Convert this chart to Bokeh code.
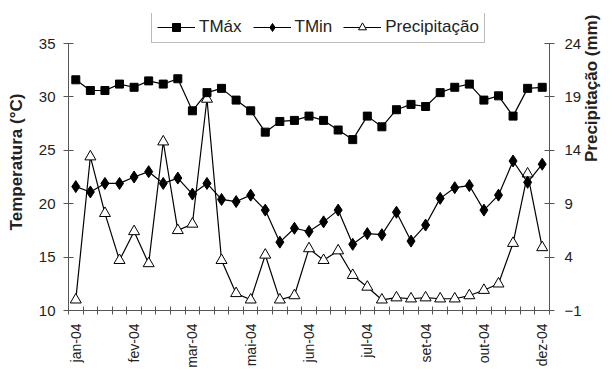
from bokeh.plotting import figure
from bokeh.models import Range1d, LinearAxis, FixedTicker, Legend, LegendItem
from bokeh.embed import file_html
from bokeh.resources import INLINE

# ---- data ----
month_labels = ["jan-04", "fev-04", "mar-04", "mai-04", "jun-04",
                "jul-04", "set-04", "out-04", "dez-04"]
label_positions = [0, 4, 8, 12, 16, 20, 24, 28, 32]

tmax = [31.6, 30.6, 30.6, 31.2, 30.9, 31.5, 31.2, 31.7, 28.7, 30.4, 30.8,
        29.7, 28.7, 26.7, 27.7, 27.8, 28.2, 27.8, 26.9, 26.0, 28.2, 27.2,
        28.8, 29.3, 29.1, 30.4, 30.9, 31.2, 29.7, 30.1, 28.2, 30.8, 30.9]
tmin = [21.6, 21.1, 21.9, 21.9, 22.5, 23.0, 21.9, 22.4, 20.9, 21.9, 20.4,
        20.2, 20.8, 19.4, 16.4, 17.7, 17.4, 18.3, 19.4, 16.2, 17.2, 17.1,
        19.2, 16.5, 18.0, 20.5, 21.5, 21.7, 19.4, 20.8, 24.0, 22.0, 23.7]
precip = [0.0, 13.4, 8.1, 3.7, 6.4, 3.4, 14.8, 6.5, 7.1, 18.8, 3.7,
          0.6, 0.0, 4.2, 0.0, 0.4, 4.8, 3.7, 4.6, 2.3, 1.2, 0.0,
          0.2, 0.1, 0.2, 0.1, 0.1, 0.4, 0.9, 1.5, 5.3, 11.8, 4.9]
x = list(range(len(tmax)))

left_ticks = [10, 15, 20, 25, 30, 35]
right_ticks = [-1, 4, 9, 14, 19, 24]

FONT = "Liberation Sans"
TXT = "#222222"
AX = "#555555"

# frame: 267 px for the axes span, plus 30 px headroom on top for the legend
AXIS_PX = 267
HEAD_PX = 30
t_lo, t_hi = left_ticks[0], left_ticks[-1]
p_lo, p_hi = right_ticks[0], right_ticks[-1]
head_t = (t_hi - t_lo) * HEAD_PX / AXIS_PX
head_p = (p_hi - p_lo) * HEAD_PX / AXIS_PX

p = figure(width=613, height=371,
           x_range=Range1d(-0.5, len(x) - 0.5),
           y_range=Range1d(t_lo, t_hi + head_t),
           output_backend="svg", toolbar_location=None,
           min_border_left=68, min_border_right=58,
           min_border_top=13, min_border_bottom=61)
p.extra_y_ranges = {"precip": Range1d(p_lo, p_hi + head_p)}
p.outline_line_color = None
p.xgrid.visible = False
p.ygrid.visible = False
p.background_fill_color = "white"
p.border_fill_color = "white"

# series
lp = p.line(x, precip, y_range_name="precip", line_color="black", line_width=1.2)
sp = p.scatter(x, precip, y_range_name="precip", marker="triangle", size=11,
               fill_color="white", line_color="black", line_width=1)
ln = p.line(x, tmin, line_color="black", line_width=1.2)
sn = p.scatter(x, tmin, marker="diamond", size=12, fill_color="black", line_color="black")
lx = p.line(x, tmax, line_color="black", line_width=1.2)
sx = p.scatter(x, tmax, marker="square", size=8, fill_color="black", line_color="black")

# x axis
xa = p.xaxis[0]
xa.ticker = FixedTicker(ticks=label_positions,
                        minor_ticks=[i - 0.5 for i in range(len(x) + 1)])
xa.major_label_overrides = {pos: lab for pos, lab in zip(label_positions, month_labels)}
xa.major_label_orientation = 3.14159265 / 2
xa.major_tick_in = 0
xa.major_tick_out = 0
xa.minor_tick_in = 4
xa.minor_tick_out = 4
xa.major_label_standoff = 9

# left axis
ya = p.yaxis[0]
ya.ticker = FixedTicker(ticks=left_ticks)
ya.bounds = (t_lo, t_hi)
ya.axis_label = "Temperatura (°C)"
ya.minor_tick_line_color = None
ya.major_tick_in = 5
ya.major_tick_out = 5
ya.major_label_standoff = 8
ya.axis_label_standoff = 10

# right axis
ra = LinearAxis(y_range_name="precip", ticker=FixedTicker(ticks=right_ticks),
                axis_label="Precipitação (mm)", bounds=(p_lo, p_hi))
ra.minor_tick_line_color = None
ra.major_tick_in = 5
ra.major_tick_out = 5
ra.major_label_standoff = 10
ra.axis_label_standoff = 7
if "axis_label_orientation" in ra.properties():
    ra.axis_label_orientation = 3.14159265 / 2
p.add_layout(ra, "right")

for ax in (xa, ya, ra):
    ax.axis_line_color = AX
    ax.major_tick_line_color = AX
    ax.axis_line_width = 1
    ax.major_label_text_font = FONT
    ax.major_label_text_font_size = "15px"
    ax.major_label_text_color = TXT
    ax.axis_label_text_font = FONT
    ax.axis_label_text_font_size = "17px"
    ax.axis_label_text_font_style = "bold"
    ax.axis_label_text_color = TXT
xa.minor_tick_line_color = AX
xa.major_label_text_font_size = "14px"

legend = Legend(items=[LegendItem(label="TMáx", renderers=[lx, sx]),
                       LegendItem(label="TMin", renderers=[ln, sn]),
                       LegendItem(label="Precipitação", renderers=[lp, sp])],
                orientation="horizontal", location=(83, AXIS_PX))
legend.label_text_font = FONT
legend.label_text_font_size = "17px"
legend.label_text_color = TXT
legend.glyph_width = 38
legend.glyph_height = 20
legend.label_height = 20
legend.label_standoff = 4
legend.spacing = 11
legend.padding = 5
legend.margin = 0
legend.border_line_color = "#777777"
legend.border_line_width = 1
legend.background_fill_alpha = 1
p.add_layout(legend, "center")

open("out.html", "w").write(file_html(p, INLINE))
